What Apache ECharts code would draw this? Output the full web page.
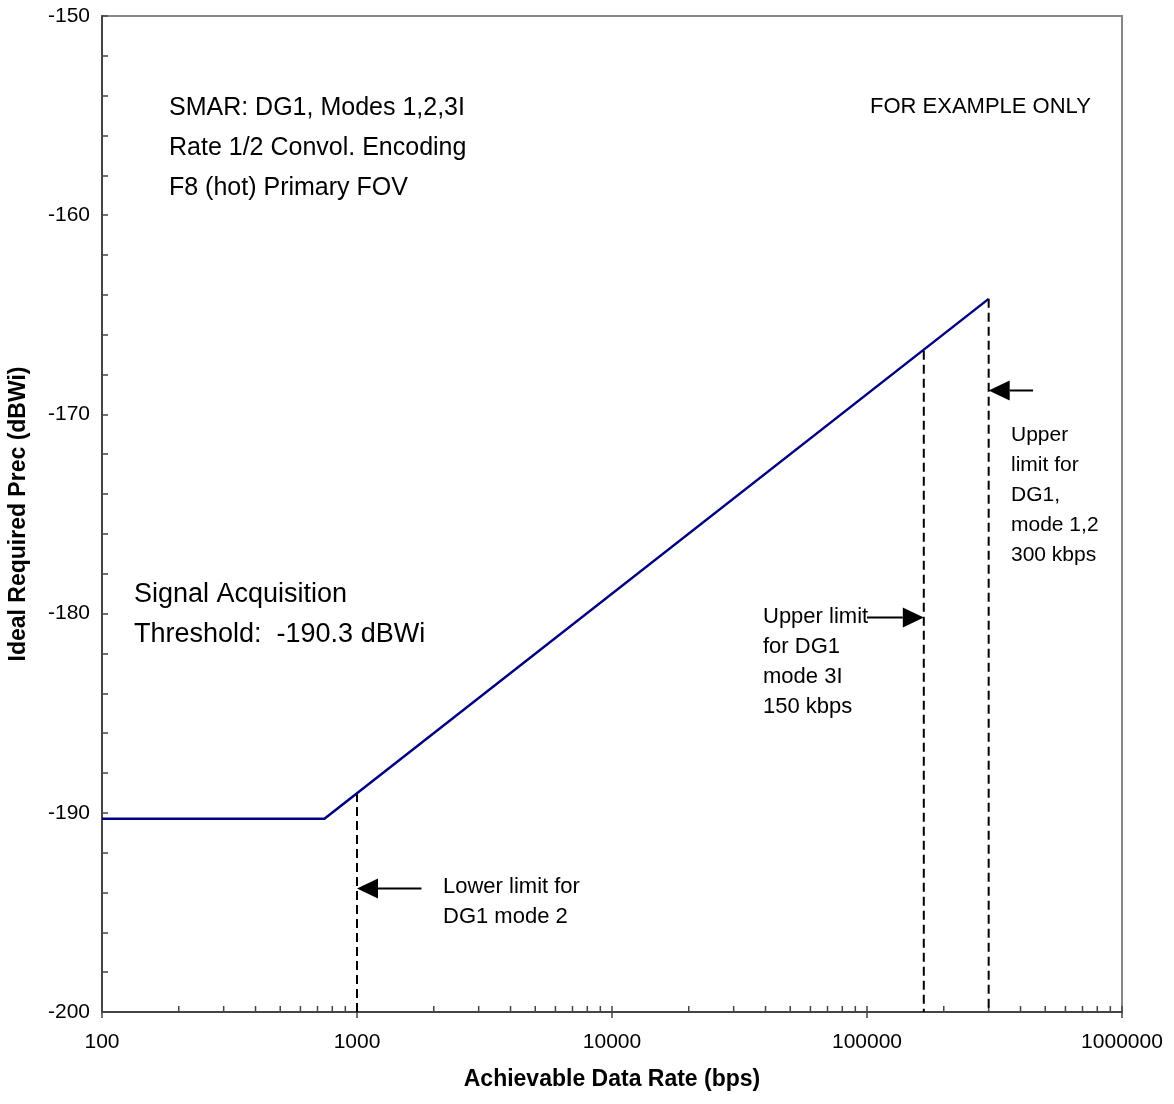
<!DOCTYPE html>
<html>
<head>
<meta charset="utf-8">
<title>Ideal Required Prec vs Achievable Data Rate</title>
<script src="https://cdn.jsdelivr.net/npm/echarts@6/dist/echarts.min.js"></script>
<style>
  html, body { margin: 0; padding: 0; background: #fff; }
  #chart { width: 1174px; height: 1104px; }
</style>
</head>
<body>
<div id="chart"></div>
<script>
// Required received power curve: flat at the acquisition threshold, then rising
const curveRates = [100, 745, 300000];
const curvePrec = [-190.3, -190.3, -164.2];

// Data-rate limits drawn as dashed verticals (rate, curve value at that rate)
const limitRates = [1000, 167000, 300000];
const limitPrec = [-189.0, -166.8, -164.2];

// Pointer arrows: tip rate, tail rate, level (dBWi)
const arrowTips = [300000, 167000, 1000];
const arrowTails = [448000, 100000, 1790];
const arrowLevels = [-168.8, -180.2, -193.8];

// Axis ranges and tick labels
const xTickLabels = ['100', '1000', '10000', '100000', '1000000'];
const yTickLabels = ['-200', '-190', '-180', '-170', '-160', '-150'];
const X_MIN = 100, X_MAX = 1000000;
const Y_MIN = -200, Y_MAX = -150;

// Minor tick positions on the logarithmic rate axis (1..9 per decade)
const xMinorTicks = [];
for (let d = 100; d < X_MAX; d *= 10) {
  for (let k = 1; k <= 9; k++) xMinorTicks.push(k * d);
}
xMinorTicks.push(X_MAX);

const FONT = 'Arial, "Liberation Sans", Helvetica, sans-serif';
const chart = echarts.init(document.getElementById('chart'), null, { renderer: 'canvas' });

const curveData = curveRates.map((r, i) => [r, curvePrec[i]]);

const limitSeries = limitRates.map((r, i) => ({
  type: 'line',
  data: [[r, limitPrec[i]], [r, Y_MIN]],
  symbol: 'none',
  silent: true,
  lineStyle: { color: '#000', width: 2, type: [9, 5] },
  z: 3
}));

const option = {
  animation: false,
  backgroundColor: '#fff',
  grid: {
    left: 102, right: 52, top: 16, bottom: 92,
    outerBoundsMode: 'none',
    containLabel: false,
    show: true, borderColor: '#888', borderWidth: 2, backgroundColor: 'transparent'
  },
  xAxis: {
    type: 'log',
    logBase: 10,
    min: X_MIN,
    max: X_MAX,
    name: 'Achievable Data Rate (bps)',
    nameLocation: 'middle',
    nameGap: 56,
    nameTextStyle: { fontFamily: FONT, fontSize: 23, fontWeight: 'bold', color: '#000' },
    axisLine: { show: true, lineStyle: { color: '#444', width: 2 } },
    axisTick: { show: true, inside: false, length: 6, lineStyle: { color: '#444', width: 1.5 } },
    splitLine: { show: false },
    axisLabel: {
      margin: 20,
      fontFamily: FONT, fontSize: 21, color: '#000',
      formatter: v => {
        const s = String(Math.round(v));
        return xTickLabels.indexOf(s) >= 0 ? s : '';
      }
    }
  },
  yAxis: {
    type: 'value',
    min: Y_MIN,
    max: Y_MAX,
    interval: 10,
    name: 'Ideal Required Prec (dBWi)',
    nameLocation: 'middle',
    nameGap: 72,
    nameTextStyle: { fontFamily: FONT, fontSize: 23, fontWeight: 'bold', color: '#000' },
    axisLine: { show: true, lineStyle: { color: '#444', width: 2 } },
    axisTick: { show: true, inside: true, length: 6, lineStyle: { color: '#444', width: 1.5 } },
    minorTick: { show: true, splitNumber: 5, length: 6, lineStyle: { color: '#444', width: 1.5 } },
    splitLine: { show: false },
    minorSplitLine: { show: false },
    axisLabel: {
      margin: 12,
      fontFamily: FONT, fontSize: 21, color: '#000',
      formatter: v => {
        const s = String(Math.round(v));
        return yTickLabels.indexOf(s) >= 0 ? s : '';
      }
    }
  },
  series: [
    {
      name: 'Ideal Required Prec',
      type: 'line',
      data: curveData,
      symbol: 'none',
      silent: true,
      lineStyle: { color: '#000080', width: 2.5 },
      z: 4
    },
    ...limitSeries,
    {
      // inner minor ticks along the rate axis
      type: 'custom',
      silent: true,
      clip: false,
      data: xMinorTicks.map(v => [v, Y_MIN]),
      renderItem: (params, api) => {
        const p = api.coord([api.value(0), Y_MIN]);
        return {
          type: 'line',
          shape: { x1: p[0], y1: p[1], x2: p[0], y2: p[1] - 6 },
          style: { stroke: '#444', lineWidth: 1.5 }
        };
      },
      z: 2
    },
    {
      // pointer arrows toward the limit lines
      type: 'custom',
      silent: true,
      clip: false,
      data: arrowTips.map((t, i) => [t, arrowLevels[i], arrowTails[i]]),
      renderItem: (params, api) => {
        const tip = api.coord([api.value(0), api.value(1)]);
        const tail = api.coord([api.value(2), api.value(1)]);
        const dir = tail[0] > tip[0] ? 1 : -1;
        const headLen = 21, headHalf = 10;
        const base = tip[0] + dir * headLen;
        return {
          type: 'group',
          children: [
            {
              type: 'line',
              shape: { x1: base, y1: tip[1], x2: tail[0], y2: tail[1] },
              style: { stroke: '#000', lineWidth: 2 }
            },
            {
              type: 'polygon',
              shape: { points: [[tip[0], tip[1]], [base, tip[1] - headHalf], [base, tip[1] + headHalf]] },
              style: { fill: '#000' }
            }
          ]
        };
      },
      z: 5
    }
  ],
  graphic: [
    {
      type: 'text', left: 169, top: 88, silent: true,
      style: {
        text: 'SMAR: DG1, Modes 1,2,3I\nRate 1/2 Convol. Encoding\nF8 (hot) Primary FOV',
        font: '25px ' + FONT, fill: '#000', lineHeight: 40
      }
    },
    {
      type: 'text', left: 870, top: 94, silent: true,
      style: { text: 'FOR EXAMPLE ONLY', font: '22px ' + FONT, fill: '#000', lineHeight: 26 }
    },
    {
      type: 'text', left: 134, top: 575, silent: true,
      style: {
        text: 'Signal Acquisition\nThreshold:  -190.3 dBWi',
        font: '27px ' + FONT, fill: '#000', lineHeight: 40
      }
    },
    {
      type: 'text', left: 1011, top: 420, silent: true,
      style: {
        text: 'Upper\nlimit for\nDG1,\nmode 1,2\n300 kbps',
        font: '21px ' + FONT, fill: '#000', lineHeight: 30
      }
    },
    {
      type: 'text', left: 763, top: 602, silent: true,
      style: {
        text: 'Upper limit\nfor DG1\nmode 3I\n150 kbps',
        font: '22px ' + FONT, fill: '#000', lineHeight: 30
      }
    },
    {
      type: 'text', left: 443, top: 872, silent: true,
      style: {
        text: 'Lower limit for\nDG1 mode 2',
        font: '22px ' + FONT, fill: '#000', lineHeight: 30
      }
    }
  ]
};

chart.setOption(option);
</script>
</body>
</html>
